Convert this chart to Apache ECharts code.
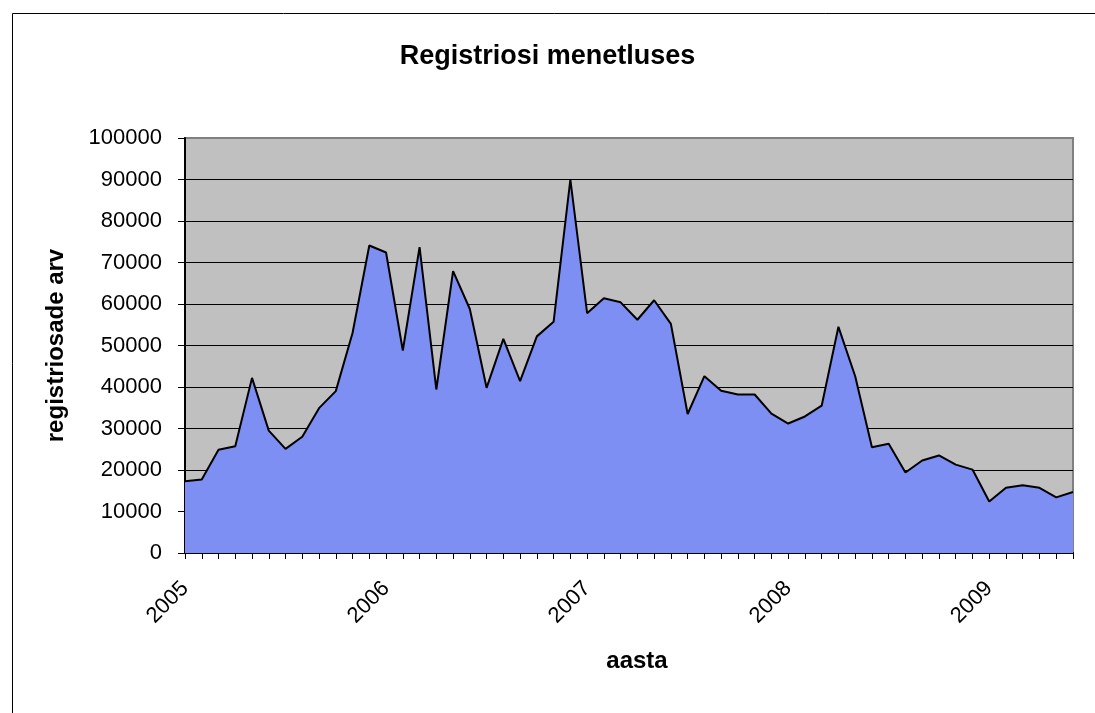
<!DOCTYPE html>
<html>
<head>
<meta charset="utf-8">
<script src="https://cdn.jsdelivr.net/npm/echarts@6/dist/echarts.min.js"></script>
<style>
html,body{margin:0;padding:0;background:#fff;}
#chart{width:1095px;height:713px;}
</style>
</head>
<body>
<div id="chart"></div>
<script>
const categories = [
 '2005-01','2005-02','2005-03','2005-04','2005-05','2005-06','2005-07','2005-08','2005-09','2005-10','2005-11','2005-12',
 '2006-01','2006-02','2006-03','2006-04','2006-05','2006-06','2006-07','2006-08','2006-09','2006-10','2006-11','2006-12',
 '2007-01','2007-02','2007-03','2007-04','2007-05','2007-06','2007-07','2007-08','2007-09','2007-10','2007-11','2007-12',
 '2008-01','2008-02','2008-03','2008-04','2008-05','2008-06','2008-07','2008-08','2008-09','2008-10','2008-11','2008-12',
 '2009-01','2009-02','2009-03','2009-04','2009-05','2009-06'
];
const values = [
 17300,17700,24900,25700,42200,29500,25100,28000,34900,39000,53000,74100,
 72400,48800,73700,39400,67900,58800,39800,51600,41400,52200,55700,90000,
 57800,61400,60400,56200,60900,55200,33500,42600,39100,38200,38200,33600,
 31200,32900,35500,54500,42600,25500,26300,19400,22300,23500,21300,20100,
 12400,15700,16300,15700,13400,14700
];
const yTicks = [0,10000,20000,30000,40000,50000,60000,70000,80000,90000,100000];
const yearLabels = ['2005','2006','2007','2008','2009'];

const chart = echarts.init(document.getElementById('chart'), null, {renderer:'canvas'});
const FONT = '"Liberation Sans", Arial, sans-serif';
chart.setOption({
  animation:false,
  backgroundColor:'#ffffff',
  graphic:[{
    type:'rect', left:10, top:11, silent:true, z:-10,
    shape:{x:0,y:0,width:1100,height:720},
    style:{fill:'none', stroke:'#000', lineWidth:1}
  }],
  title:{
    text:'Registriosi menetluses', left:'center', top:38,
    padding:[5,0,5,12],
    textStyle:{fontFamily:FONT, fontSize:27, fontWeight:'bold', color:'#000'}
  },
  grid:{left:185, right:22, top:138, bottom:160, show:true,
        backgroundColor:'#C0C0C0', borderColor:'#808080', borderWidth:2},
  xAxis:{
    type:'category', data:categories, boundaryGap:false,
    name:'aasta', nameLocation:'middle', nameGap:96,
    nameTextStyle:{fontFamily:FONT, fontSize:24, fontWeight:'bold', color:'#000', padding:[0,0,0,16]},
    axisLine:{lineStyle:{color:'#000', width:2}},
    axisTick:{show:true, interval:0, length:6, lineStyle:{color:'#000', width:1}},
    axisLabel:{
      rotate:45, margin:32, fontFamily:FONT, fontSize:22, color:'#000',
      interval:function(i){ return i % 12 === 0; },
      formatter:function(v){ return yearLabels[yearLabels.indexOf(v.slice(0,4))]; }
    },
    splitLine:{show:false}
  },
  yAxis:{
    type:'value', min:yTicks[0], max:yTicks[yTicks.length-1], interval:yTicks[1]-yTicks[0],
    name:'registriosade arv', nameLocation:'middle', nameGap:117,
    nameTextStyle:{fontFamily:FONT, fontSize:24, fontWeight:'bold', color:'#000'},
    axisLine:{show:true, lineStyle:{color:'#000', width:2}},
    axisTick:{show:true, inside:false, length:7, lineStyle:{color:'#000', width:1}},
    axisLabel:{fontFamily:FONT, fontSize:22, color:'#000', margin:23,
      formatter:function(v){ return String(v); }},
    splitLine:{show:true, lineStyle:{color:['#000','#000','#000','#000','#000','#000','#000','#000','#000','#000','#808080'], width:1}}
  },
  series:[{
    type:'line', data:values, symbol:'none',
    lineStyle:{color:'#000', width:2},
    areaStyle:{color:'#7D8FF3', opacity:1},
    z:2
  }]
});
</script>
</body>
</html>
